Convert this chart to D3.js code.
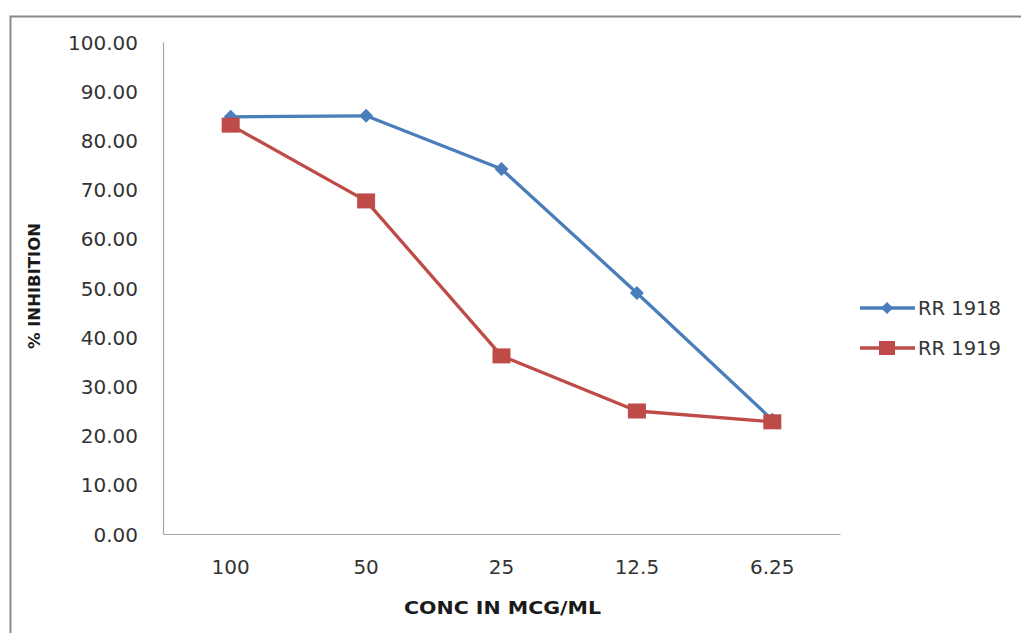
<!DOCTYPE html>
<html>
<head>
<meta charset="utf-8">
<script src="https://cdn.jsdelivr.net/npm/d3@7"></script>
<style>
  body { margin: 0; background: #fff; }
  svg text { font-family: "DejaVu Sans", sans-serif; }
</style>
</head>
<body>
<div id="chart"></div>
<script>
// categories and series
const concLabels = ["100", "50", "25", "12.5", "6.25"];
const rr1918 = [84.8, 85.0, 74.2, 49.0, 23.2];
const rr1919 = [83.1, 67.7, 36.2, 25.0, 22.8];
const yTicks = [0, 10, 20, 30, 40, 50, 60, 70, 80, 90, 100];

const series = [
    { name: "RR 1918", values: rr1918, color: "#4a7ebb", marker: "diamond" },
    { name: "RR 1919", values: rr1919, color: "#be4b48", marker: "square" }
];

const W = 1021, H = 633;
const margin = { top: 42, left: 163, bottom: 99, right: 181 };
const width = W - margin.left - margin.right,
    height = H - margin.top - margin.bottom;

const svg = d3.select("#chart").append("svg")
    .attr("width", W)
    .attr("height", H);

// chart frame
svg.append("rect")
    .attr("x", 10.5).attr("y", 16.5)
    .attr("width", W + 20).attr("height", H + 20)
    .attr("fill", "none")
    .attr("stroke", "#8a8a8a")
    .attr("stroke-width", 2);

const g = svg.append("g")
    .attr("transform", "translate(" + margin.left + "," + margin.top + ")");

// scales
const x = d3.scaleBand()
    .domain(concLabels)
    .range([0, width]);

const y = d3.scaleLinear()
    .domain([0, 100])
    .range([height, 0]);

// axes
const yAxis = d3.axisLeft(y)
    .tickValues(yTicks)
    .tickSize(0)
    .tickPadding(25)
    .tickFormat(d3.format(".2f"));

const xAxis = d3.axisBottom(x)
    .tickSize(0)
    .tickPadding(26);

g.append("g")
    .attr("class", "y-axis")
    .call(yAxis);

g.append("g")
    .attr("class", "x-axis")
    .attr("transform", "translate(0," + height + ")")
    .call(xAxis);

g.selectAll(".domain")
    .attr("stroke", "#a6a6a6")
    .attr("stroke-width", 1.2);

g.selectAll(".tick text")
    .attr("fill", "#333")
    .style("font-size", "20px");

g.selectAll(".y-axis .tick text").attr("dy", "0.35em");

// axis titles
svg.append("text")
    .attr("x", 404)
    .attr("y", 614)
    .attr("textLength", 197)
    .attr("lengthAdjust", "spacingAndGlyphs")
    .attr("fill", "#1a1a1a")
    .style("font-size", "17px")
    .style("font-weight", "bold")
    .text("CONC IN MCG/ML");

svg.append("text")
    .attr("transform", "translate(40,286) rotate(-90)")
    .attr("text-anchor", "middle")
    .attr("fill", "#1a1a1a")
    .style("font-size", "16.5px")
    .style("font-weight", "bold")
    .text("% INHIBITION");

// lines and markers
const line = d3.line()
    .x((d, i) => x(concLabels[i]) + x.bandwidth() / 2)
    .y(d => y(d));

function drawMarker(sel, type, color) {
    if (type === "diamond") {
        sel.append("path")
            .attr("d", "M0,-7L7,0L0,7L-7,0Z")
            .attr("fill", color);
    } else {
        sel.append("rect")
            .attr("x", -9).attr("y", -7.5)
            .attr("width", 18).attr("height", 15)
            .attr("fill", color);
    }
}

series.forEach(s => {
    g.append("path")
        .datum(s.values)
        .attr("fill", "none")
        .attr("stroke", s.color)
        .attr("stroke-width", 3.3)
        .attr("stroke-linejoin", "round")
        .attr("d", line);

    g.selectAll(".pt-" + s.marker)
        .data(s.values)
        .enter().append("g")
        .attr("class", "pt-" + s.marker)
        .attr("transform", (d, i) => "translate(" + (x(concLabels[i]) + x.bandwidth() / 2) + "," + y(d) + ")")
        .each(function () { drawMarker(d3.select(this), s.marker, s.color); });
});

// legend
const legend = svg.append("g")
    .attr("transform", "translate(860,308)");

series.forEach((s, i) => {
    const row = legend.append("g")
        .attr("transform", "translate(0," + i * 40 + ")");
    row.append("line")
        .attr("x1", 0).attr("x2", 55)
        .attr("stroke", s.color)
        .attr("stroke-width", 3.3);
    const m = row.append("g").attr("transform", "translate(27,0)");
    if (s.marker === "diamond") {
        m.append("path").attr("d", "M0,-6L6,0L0,6L-6,0Z").attr("fill", s.color);
    } else {
        m.append("rect").attr("x", -8).attr("y", -7).attr("width", 16).attr("height", 14).attr("fill", s.color);
    }
    row.append("text")
        .attr("x", 58)
        .attr("dy", "0.35em")
        .attr("fill", "#333")
        .style("font-size", "19.5px")
        .text(s.name);
});
</script>
</body>
</html>
